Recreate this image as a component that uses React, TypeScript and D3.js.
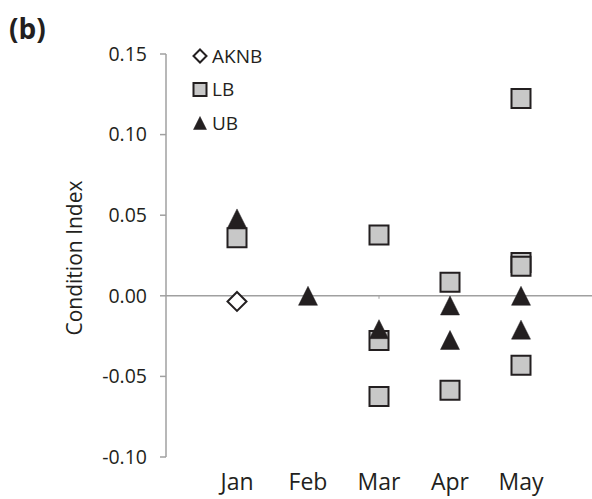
import React from "react";
import * as d3 from "d3";

// categories and tick values
const months = ["Jan", "Feb", "Mar", "Apr", "May"];
const yTicks = [-0.1, -0.05, 0, 0.05, 0.1, 0.15];

// series values per month (null = no point)
const aknb = [-0.0035, null, null, null, null];
const lb1 = [0.036, null, 0.0377, 0.0084, 0.0206];
const lb2 = [null, null, -0.0277, -0.0586, -0.0431];
const lb3 = [null, null, -0.0625, null, 0.0183];
const lb4 = [null, null, null, null, 0.1224];
const ub1 = [0.048, 0.0, -0.0207, -0.006, 0.0];
const ub2 = [null, null, null, -0.0274, -0.021];

const legendItems = [
  { name: "AKNB", kind: "diamond" },
  { name: "LB", kind: "square" },
  { name: "UB", kind: "triangle" },
];

// draw order matters where markers overlap
const series = [
  { kind: "square", values: lb2 },
  { kind: "triangle", values: ub1 },
  { kind: "square", values: lb1 },
  { kind: "square", values: lb3 },
  { kind: "square", values: lb4 },
  { kind: "triangle", values: ub2 },
  { kind: "diamond", values: aknb },
];

const W = 592;
const H = 499;
const font = "'Open Sans', sans-serif";
const ink = "#231f20";
const axisGrey = "#a0a0a0";

const x = d3.scalePoint<string>().domain(months).range([237, 521]);
const y = d3.scaleLinear().domain([-0.1, 0.15]).range([457, 54]);
const fmt = (v: number) => d3.format(".2f")(v).replace("\u2212", "-");

function markerPath(kind: string, s: number) {
  const h = s / 2;
  const p = d3.path();
  if (kind === "square") {
    p.rect(-h, -h, s, s);
  } else if (kind === "triangle") {
    p.moveTo(0, -h);
    p.lineTo(h, h);
    p.lineTo(-h, h);
    p.closePath();
  } else {
    p.moveTo(0, -h);
    p.lineTo(h, 0);
    p.lineTo(0, h);
    p.lineTo(-h, 0);
    p.closePath();
  }
  return p.toString();
}

function Marker({ kind, cx, cy, s }: { kind: string; cx: number; cy: number; s: number }) {
  const fill = kind === "square" ? "#c8c8c8" : kind === "triangle" ? ink : "#fff";
  const sw = kind === "triangle" ? 0.5 : 2;
  return (
    <path
      d={markerPath(kind, s)}
      transform={`translate(${cx},${cy})`}
      fill={fill}
      stroke={ink}
      strokeWidth={sw}
    />
  );
}

export default function App() {
  const x0 = 166;
  return (
    <svg width={W} height={H} style={{ position: "absolute", left: 0, top: 0, background: "#fff" }}>
      <text x={9} y={39} fontFamily={font} fontWeight="bold" fontSize={28} fill={ink}>
        (b)
      </text>

      {/* y axis */}
      <line x1={x0} x2={x0} y1={y(0.15)} y2={y(-0.1)} stroke={axisGrey} strokeWidth={1.5} />
      {yTicks.map((t) => (
        <g key={t}>
          <line x1={x0 - 6} x2={x0} y1={y(t)} y2={y(t)} stroke={axisGrey} strokeWidth={1.5} />
          <text
            x={147}
            y={y(t)}
            dy="0.35em"
            textAnchor="end"
            fontFamily={font}
            fontSize={19.5}
            fill={ink}
          >
            {fmt(t)}
          </text>
        </g>
      ))}

      {/* zero line */}
      <line x1={x0} x2={W} y1={y(0)} y2={y(0)} stroke={axisGrey} strokeWidth={1.5} />
      {months.map((m) => (
        <line key={m} x1={x(m)} x2={x(m)} y1={y(0)} y2={y(0) + 3} stroke={axisGrey} strokeWidth={1} />
      ))}

      {/* month labels */}
      {months.map((m) => (
        <text key={m} x={x(m)} y={490} textAnchor="middle" fontFamily={font} fontSize={23} fill={ink}>
          {m}
        </text>
      ))}

      <text
        transform={`translate(82,258) rotate(-90)`}
        textAnchor="middle"
        fontFamily={font}
        fontSize={21}
        fill={ink}
      >
        Condition Index
      </text>

      {/* points */}
      {series.map((s, i) => (
        <g key={i}>
          {s.values.map((v, j) =>
            v === null ? null : (
              <Marker key={j} kind={s.kind} cx={x(months[j]) as number} cy={y(v)} s={19} />
            )
          )}
        </g>
      ))}

      {/* legend */}
      {legendItems.map((it, i) => (
        <g key={it.name} transform={`translate(200,${56 + i * 33.5})`}>
          <Marker kind={it.kind} cx={0} cy={0} s={13} />
          <text x={12} y={0} dy="0.35em" fontFamily={font} fontSize={19} fill={ink}>
            {it.name}
          </text>
        </g>
      ))}
    </svg>
  );
}
